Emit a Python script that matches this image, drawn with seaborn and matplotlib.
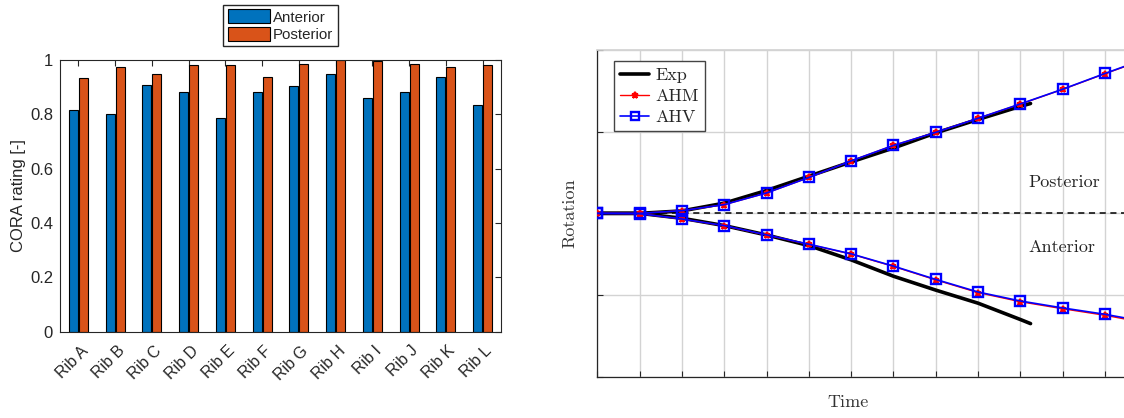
import numpy as np
import pandas as pd
import matplotlib
matplotlib.use("Agg")
import matplotlib.pyplot as plt
import matplotlib.transforms as mtransforms
from matplotlib.legend_handler import HandlerLine2D
import seaborn as sns

# --- left panel: CORA rating per rib ---
ribs = ["Rib A", "Rib B", "Rib C", "Rib D", "Rib E", "Rib F",
        "Rib G", "Rib H", "Rib I", "Rib J", "Rib K", "Rib L"]
anterior = [0.816, 0.800, 0.908, 0.883, 0.788, 0.883, 0.904, 0.947, 0.859, 0.881, 0.937, 0.833]
posterior = [0.935, 0.973, 0.948, 0.980, 0.983, 0.936, 0.984, 0.999, 0.996, 0.984, 0.973, 0.980]
yticks_left = [0, 0.2, 0.4, 0.6, 0.8, 1]
ytick_labels_left = ["0", "0.2", "0.4", "0.6", "0.8", "1"]

# --- right panel: rotation vs time (no tick values shown) ---
t_model = [0, 1, 2, 3, 4, 5, 6, 7, 8, 9, 10, 11, 12, 13]
ahv_post = [0, 0, 0.033, 0.107, 0.250, 0.439, 0.643, 0.832, 0.992, 1.164, 1.340, 1.520, 1.713, 1.90]
ahm_post = [0, 0, 0.033, 0.107, 0.250, 0.439, 0.643, 0.832, 0.992, 1.164, 1.338, 1.518, 1.710, 1.895]
ahv_ant = [0, -0.004, -0.069, -0.150, -0.264, -0.378, -0.496, -0.646, -0.809, -0.963, -1.073, -1.158, -1.236, -1.33]
ahm_ant = [0, -0.004, -0.069, -0.152, -0.266, -0.380, -0.499, -0.650, -0.815, -0.970, -1.082, -1.168, -1.248, -1.345]
t_exp = [0, 1, 2, 3, 4, 5, 6, 7, 8, 9, 10, 10.24]
exp_post = [0, 0, 0.03, 0.125, 0.28, 0.455, 0.63, 0.80, 0.985, 1.15, 1.31, 1.345]
exp_ant = [0, 0, -0.06, -0.15, -0.265, -0.395, -0.57, -0.77, -0.94, -1.10, -1.30, -1.35]


class LeftMarker(HandlerLine2D):
    # legend marker drawn at the left end of the handle line
    def get_xdata(self, legend, xdescent, ydescent, width, height, fontsize):
        xdata, _ = super().get_xdata(legend, xdescent, ydescent, width, height, fontsize)
        return xdata, np.asarray(xdata[:1])


sns.set_theme(style="white")
plt.rcParams["axes.formatter.use_mathtext"] = True
plt.rcParams["font.family"] = ["Liberation Sans", "DejaVu Sans"]

W, H = 1124, 418
fig = plt.figure(figsize=(W / 100, H / 100), dpi=100)
ax1 = fig.add_axes([60 / W, 86.3 / H, 441 / W, 271.7 / H])
ax2 = fig.add_axes([597.4 / W, 41.3 / H, 14 * 42.3 / W, 326.7 / H])

dark = "#262626"

# left: grouped bars
df = pd.DataFrame({
    "Rib": ribs * 2,
    "Side": ["Anterior"] * len(ribs) + ["Posterior"] * len(ribs),
    "CORA": anterior + posterior,
})
sns.barplot(data=df, x="Rib", y="CORA", hue="Side", palette=["#0072BD", "#D95319"],
            saturation=1, width=0.54, gap=0.1, edgecolor="black", linewidth=0.8,
            errorbar=None, ax=ax1)
ax1.set_xlim(-0.5, len(ribs) - 0.5)
ax1.set_ylim(0, 1)
ax1.set_yticks(yticks_left)
ax1.set_yticklabels(ytick_labels_left)
ax1.set_xticks(range(len(ribs)))
ax1.set_xticklabels(ribs, rotation=45, ha="right", va="center", rotation_mode="anchor")
ax1.set_xlabel("")
ax1.set_ylabel("CORA rating [-]", fontsize=12, color=dark, labelpad=3)
ax1.tick_params(direction="in", top=True, right=True, length=4, width=0.8,
                colors=dark, pad=5)
ax1.tick_params(axis="y", labelsize=12)
ax1.tick_params(axis="x", labelsize=11.5, pad=12)
shift = mtransforms.ScaledTranslation(0.07, 0, fig.dpi_scale_trans)
for lab in ax1.get_xticklabels():
    lab.set_transform(lab.get_transform() + shift)
for s in ax1.spines.values():
    s.set_color(dark)
    s.set_linewidth(0.8)
h, l = ax1.get_legend_handles_labels()
ax1.legend(h, l, loc="upper center", bbox_to_anchor=(280.5 / W, 1 - 5 / H),
           bbox_transform=fig.transFigure, borderaxespad=0, fontsize=10.8,
           handlelength=2.8, handleheight=1.05, handletextpad=0.2, labelspacing=0.15,
           borderpad=0.3, fancybox=False, edgecolor=dark, framealpha=1)

# right: rotation curves
ax2.axhline(0, color="black", ls="--", lw=1.1, dashes=(4, 3), zorder=1)
sns.lineplot(x=t_exp, y=exp_post, color="black", lw=2.6, ax=ax2, zorder=2)
sns.lineplot(x=t_exp, y=exp_ant, color="black", lw=2.6, ax=ax2, zorder=2)
sns.lineplot(x=t_model, y=ahm_post, color="red", lw=1, marker="*", ms=5,
             mec="red", mfc="red", mew=1.5, ax=ax2, zorder=3)
sns.lineplot(x=t_model, y=ahm_ant, color="red", lw=1, marker="*", ms=5,
             mec="red", mfc="red", mew=1.5, ax=ax2, zorder=3)
sns.lineplot(x=t_model, y=ahv_post, color="blue", lw=1.2, marker="s", ms=6.5,
             mec="blue", mfc="none", mew=1.7, ax=ax2, zorder=4)
sns.lineplot(x=t_model, y=ahv_ant, color="blue", lw=1.2, marker="s", ms=6.5,
             mec="blue", mfc="none", mew=1.7, ax=ax2, zorder=4)
lines = ax2.get_lines()
ax2.set_xlim(0, 14)
ax2.set_ylim(-2, 2)
ax2.set_xticks(range(0, 15))
ax2.set_yticks([-2, -1, 0, 1, 2])
ax2.set_xticklabels([])
ax2.set_yticklabels([])
ax2.grid(True, color="#d3d3d3", lw=1)
ax2.tick_params(direction="in", length=4, width=0.8, colors=dark, left=True, bottom=True)
ax2.spines["top"].set_color("#d3d3d3")
ax2.spines["right"].set_visible(False)
for k in ["left", "bottom"]:
    ax2.spines[k].set_color(dark)
    ax2.spines[k].set_linewidth(0.9)

serif = {"family": "cmr10", "size": 13}
ax2.set_xlabel("Time", fontdict=serif, color="#333333")
ax2.set_ylabel("Rotation", fontdict=serif, color="#333333")
ax2.xaxis.set_label_coords(0.423, -0.055)
ax2.yaxis.set_label_coords(-0.033, 0.5)
ax2.text(10.18, 0.38, "Posterior", fontdict=serif, color="#222222", va="center", ha="left")
ax2.text(10.18, -0.41, "Anterior", fontdict=serif, color="#222222", va="center", ha="left")

ax2.legend([lines[1], lines[3], lines[5]], ["Exp", "AHM", "AHV"],
           handler_map={lines[3]: LeftMarker(), lines[5]: LeftMarker()},
           loc="upper left", bbox_to_anchor=(614 / W, 1 - 61 / H),
           bbox_transform=fig.transFigure, borderaxespad=0,
           prop={"family": "cmr10", "size": 13}, handlelength=1.6,
           handletextpad=0.35, labelspacing=0.3, borderpad=0.35,
           fancybox=False, edgecolor="#444444", framealpha=1, markerscale=0.9)

fig.savefig("out.png", dpi=100)
